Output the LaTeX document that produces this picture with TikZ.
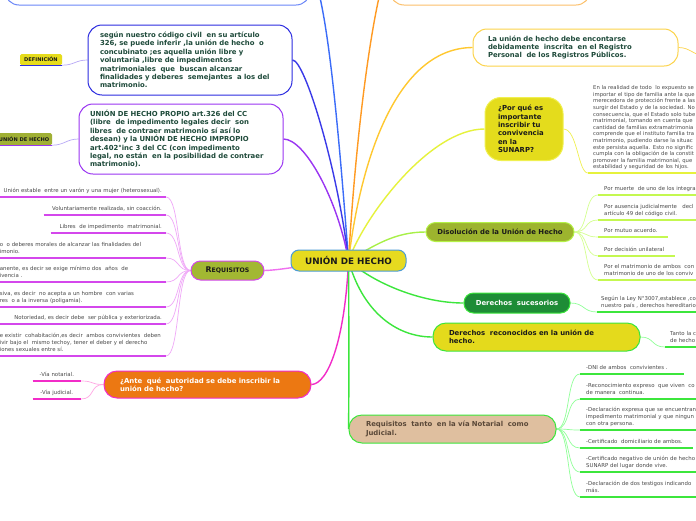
\documentclass[tikz,border=0pt]{standalone}
\usepackage{fontspec}
\setmainfont{DejaVu Sans}
\usepackage{tikz}
\usepackage{xcolor}
\usetikzlibrary{positioning}

\pgfdeclarelayer{back}
\pgfsetlayers{back,main}

\definecolor{hubfill}{HTML}{E6DA1F}
\definecolor{hubline}{HTML}{4A9BD6}
\definecolor{btline}{HTML}{6A86F8}
\definecolor{btconn}{HTML}{3B6CF8}
\definecolor{sgline}{HTML}{2C2CE0}
\definecolor{sgconn}{HTML}{3A3AE8}
\definecolor{prline}{HTML}{9A35F2}
\definecolor{otline}{HTML}{FCC06A}
\definecolor{otconn}{HTML}{FF9A22}
\definecolor{luline}{HTML}{FCD34A}
\definecolor{luconn}{HTML}{FFC830}
\definecolor{pqfill}{HTML}{E4DC1C}
\definecolor{pqline}{HTML}{F0F050}
\definecolor{pqconn}{HTML}{E6F23C}
\definecolor{dsfill}{HTML}{9DB42E}
\definecolor{dsline}{HTML}{B4F246}
\definecolor{dsconn}{HTML}{A8F048}
\definecolor{dstwig}{HTML}{D4FF90}
\definecolor{dsuline}{HTML}{C4F850}
\definecolor{sufill}{HTML}{1E8C36}
\definecolor{grn}{HTML}{3CE63C}
\definecolor{grntwig}{HTML}{90FF98}
\definecolor{rcfill}{HTML}{E4DA1C}
\definecolor{rtfill}{HTML}{DFBF9F}
\definecolor{rttext}{HTML}{5A4838}
\definecolor{rqfill}{HTML}{A2B832}
\definecolor{rqline}{HTML}{D447EC}
\definecolor{rqconn}{HTML}{F070F0}
\definecolor{rqtwig}{HTML}{F0A8F8}
\definecolor{anfill}{HTML}{EC7812}
\definecolor{anline}{HTML}{F22CC8}
\definecolor{antwig}{HTML}{FFA8E4}
\definecolor{dffill}{HTML}{E6DC1C}
\definecolor{uhfill}{HTML}{A0B034}
\definecolor{tagtwig}{HTML}{B8A8F6}
\definecolor{txtgreen}{HTML}{1E4A3A}
\definecolor{txtdark}{HTML}{1A1A1A}
\definecolor{leafgray}{HTML}{4A4A4A}

\newcommand\hubfont{\fontsize{8.8}{10}\selectfont\bfseries}
\newcommand\topicfont{\fontsize{6.9}{8.4}\selectfont\bfseries}
\newcommand\leaffont{\fontsize{5.4}{7}\selectfont}
\newcommand\tagfont{\fontsize{5.1}{6}\selectfont\bfseries}

\begin{document}
\begin{tikzpicture}[x=1pt,y=-1pt,
    hub/.style={draw=hubline, fill=hubfill, line width=1pt, rounded corners=8pt, font=\hubfont, text=txtdark, minimum width=115pt, minimum height=21pt, inner sep=0pt},
    topic/.style={draw, line width=1pt, rounded corners=12pt, fill=white, font=\topicfont, text=txtgreen, align=left, inner ysep=0pt},
    pill/.style={draw, line width=1pt, rounded corners=9.5pt, font=\topicfont, align=center, inner sep=0pt},
    tag/.style={rounded corners=1.5pt, font=\tagfont, text=txtdark, inner sep=0pt},
    leaf/.style={font=\leaffont, text=leafgray, inner xsep=6pt, inner ysep=2pt, anchor=south west, align=left, execute at end node=\strut},
    leafL/.style={leaf, anchor=south east, align=right, inner xsep=4pt},
    link/.style={line width=1.4pt},
    twig/.style={line width=0.7pt},
    uline/.style={line width=1.6pt}]
    \useasboundingbox (0,0) rectangle (696,520);

    % centre and main topics
    \node[hub] (hub) at (348.5,260.5) {UNIÓN DE HECHO};
    \node[topic, draw=btline, minimum width=305pt, minimum height=80pt, rounded corners=14pt] (bt) at (157.5,-35) {};
    \node[topic, draw=otline, minimum width=200pt, minimum height=80pt, rounded corners=14pt] (ot) at (490,-35) {};
    \node[topic, draw=sgline, text width=180pt, inner xsep=12pt, minimum height=70pt, rounded corners=14pt] (sg) at (190,60)
        {según nuestro código civil\ \ en su artículo\\326, se puede inferir ,la unión de hecho\ \ o\\concubinato ;es aquella unión libre y\\voluntaria ,libre de impedimentos\\matrimoniales\ \ que\ \ buscan alcanzar\\finalidades y deberes\ \ semejantes\ \ a los del\\matrimonio.};
    \node[topic, draw=prline, text width=182pt, inner xsep=11pt, minimum height=70pt, rounded corners=14pt] (pr) at (181,139)
        {UNIÓN DE HECHO PROPIO art.326 del CC\\(libre\ \ de impedimento legales decir\ \ son\\libres\ \ de contraer matrimonio sí así lo\\desean) y la UNIÓN DE HECHO IMPROPIO\\art.402°inc 3 del CC (con impedimento\\legal, no están\ \ en la posibilidad de contraer\\matrimonio).};
    \node[topic, draw=luline, text width=175pt, inner xsep=15pt, minimum height=37pt, rounded corners=14pt] (lu) at (575.5,47.5)
        {La unión de hecho debe encontarse\\debidamente\ \ inscrita\ \ en el Registro\\Personal\ \ de los Registros Públicos.};
    \node[topic, draw=pqline, fill=pqfill, text=txtdark, text width=52pt, inner xsep=13pt, minimum height=63pt, rounded corners=16pt] (pq) at (524,129)
        {¿Por qué es\\importante\\inscribir tu\\convivencia\\en la\\SUNARP?};
    \node[pill, draw=dsline, fill=dsfill, text=txtdark, minimum width=148pt, minimum height=19pt] (ds) at (500,232) {Disolución de la Unión de Hecho};
    \node[pill, draw=grn, fill=sufill, text=white, minimum width=106pt, minimum height=20pt] (su) at (517,303) {Derechos\ \ sucesorios};
    \node[topic, draw=grn, fill=rcfill, text=txtdark, text width=175pt, inner xsep=16pt, minimum height=28pt, rounded corners=13pt] (rc) at (536.5,337)
        {Derechos\ \ reconocidos en la unión de\\hecho.};
    \node[topic, draw=grn, fill=rtfill, text=rttext, text width=173pt, inner xsep=17pt, minimum height=28pt, rounded corners=13pt] (rt) at (452.5,429)
        {Requisitos\ \ tanto\ \ en la vía Notarial\ \ como\\Judicial.};
    \node[topic, draw=anline, fill=anfill, text=white, text width=175pt, inner xsep=16pt, minimum height=27pt, rounded corners=13pt] (an) at (207.5,384.5)
        {¿Ante\ \ qué\ \ autoridad se debe inscribir la\\unión de hecho?};
    \node[pill, draw=rqline, fill=rqfill, text=txtdark, minimum width=73pt, minimum height=19pt] (rq) at (227.5,270.5)
        {{\fontsize{7.8}{8}\selectfont R}{\fontsize{6.2}{7}\selectfont EQUISITOS}};

    % tags
    \node[tag, fill=dffill, minimum width=42pt, minimum height=11pt] (df) at (41,59.5) {DEFINICIÓN};
    \node[tag, fill=uhfill, minimum width=56pt, minimum height=12pt] (uh) at (24,139) {UNIÓN DE HECHO};
    \draw[uline, line width=1.2pt, sgline] (df.south west) -- (df.south east);
    \draw[uline, line width=1.2pt, prline] (uh.south west) -- (uh.south east);

    % leaves of REQUISITOS
    \node[leafL, text width=170pt] (r1) at (166,197) {Unión estable\ \ entre un varón y una mujer (heterosexual).};
    \node[leafL, text width=114pt] (r2) at (166,215) {Voluntariamente realizada, sin coacción.};
    \node[leafL, text width=107pt] (r3) at (166,233) {Libres\ \ de impedimento\ \ matrimonial.};
    \node[leafL, text width=162pt, align=left] (r4) at (166,258) {o\ \ o deberes morales de alcanzar las finalidades del\\imonio.};
    \node[leafL, text width=162pt, align=left] (r5) at (166,282) {anente, es decir se exige mínimo dos\ \ años\ \ de\\ivencia .};
    \node[leafL, text width=162pt, align=left] (r6) at (166,307) {siva, es decir\ \ no acepta a un hombre\ \ con varias\\res\ \ o a la inversa (poligamia).};
    \node[leafL, text width=158pt] (r7) at (166,324) {Notoriedad, es decir debe\ \ ser pública y exteriorizada.};
    \node[leafL, text width=162pt, align=left] (r8) at (166,356) {e existir\ \ cohabitación,es decir\ \ ambos convivientes\ \ deben\\ivir bajo el\ \ mismo techoy, tener el deber y el derecho\\iones sexuales entre sí.};

    % leaves of the authority question
    \node[leafL, text width=40pt, align=center] (a1) at (81,381) {-Vía notarial.};
    \node[leafL, text width=40pt, align=center] (a2) at (81,399) {-Vía judicial.};

    % right hand leaves
    \node[leaf, font=\fontsize{5.3}{6.6}\selectfont, inner xsep=5pt, text width=130pt] (p1) at (588,173)
        {En la realidad de todo\ \ lo expuesto se\\importar el tipo de familia ante la que\\merecedora de protección frente a las\\surgir del Estado y de la sociedad. No\\consecuencia, que el Estado solo tube\\matrimonial, tomando en cuenta que\\cantidad de familias extramatrimonia\\comprende que el instituto familia tra\\matrimonio, pudiendo darse la situac\\este persista aquella. Esto no signific\\cumpla con la obligación de la constit\\promover la familia matrimonial, que\\estabilidad y seguridad de los hijos.};
    \node[leaf, text width=120pt] (d1) at (598,195) {Por muerte\ \ de uno de los integra};
    \node[leaf, text width=120pt] (d2) at (598,220) {Por ausencia judicialmente\ \ \ decl\\artículo 49 del código civil.};
    \node[leaf, text width=58pt] (d3) at (598,237) {Por mutuo acuerdo.};
    \node[leaf, text width=65pt] (d4) at (598,256) {Por decisión unilateral};
    \node[leaf, text width=120pt] (d5) at (598,280) {Por el matrimonio de ambos\ \ con\\matrimonio de uno de los conviv};
    \node[leaf, inner xsep=4pt, text width=120pt] (s1) at (597,312) {Según la Ley N°3007,establece ,co\\nuestro país , derechos hereditario};
    \node[leaf, inner xsep=5pt, text width=60pt] (c1) at (665,347) {Tanto la c\\de hecho};
    \node[leaf, text width=92pt] (q1) at (580,374) {-DNI de ambos\ \ convivientes .};
    \node[leaf, text width=130pt] (q2) at (580,399) {-Reconocimiento expreso\ \ que viven\ \ co\\de manera\ \ continua.};
    \node[leaf, text width=130pt] (q3) at (580,430) {-Declaración expresa que se encuentran\\impedimento matrimonial y que ningun\\con otra persona.};
    \node[leaf, text width=101pt] (q4) at (580,448) {-Certificado\ \ domiciliario de ambos.};
    \node[leaf, text width=130pt] (q5) at (580,472) {-Certificado negativo de unión de hecho\\SUNARP del lugar donde vive.};
    \node[leaf, text width=130pt] (q6) at (580,497) {-Declaración de dos testigos indicando\\más.};
    \coordinate (luend) at (706,56);

    % underlines
    \foreach \n in {r1,r2,r3,r4,r5,r6,r7,r8} \draw[uline, rqline] (\n.south west) -- (\n.south east);
    \foreach \n in {a1,a2} \draw[uline, anline] (\n.south west) -- (\n.south east);
    \foreach \n in {d1,d2,d3,d4,d5} \draw[uline, dsuline] (\n.south west) -- (\n.south east);
    \foreach \n in {s1,c1,q1,q2,q3,q4,q5,q6} \draw[uline, grn] (\n.south west) -- (\n.south east);
    \draw[uline, pqconn] (p1.south west) -- (p1.south east);

    \begin{pgfonlayer}{back}
    \fill[white] (0,0) rectangle (696,520);
    % connectors from the centre
    \draw[link, btconn] (hub.center) .. controls (335,80) and (325,0) .. (bt.east);
    \draw[link, sgconn] (hub.center) .. controls (338,170) and (305,60) .. (sg.east);
    \draw[link, prline] (hub.center) .. controls (338,200) and (305,139) .. (pr.east);
    \draw[link, otconn] (hub.center) .. controls (358,100) and (378,-20) .. (ot.west);
    \draw[link, luconn] (hub.center) .. controls (362,150) and (400,48) .. (lu.west);
    \draw[link, pqconn] (hub.center) .. controls (365,215) and (430,129) .. (pq.west);
    \draw[link, dsconn] (hub.center) .. controls (375,245) and (395,232) .. (ds.west);
    \draw[link, rqconn] (hub.center) .. controls (320,262) and (285,270) .. (rq.east);
    \draw[link, anline] (hub.center) .. controls (345,340) and (328,384) .. (an.east);
    \draw[link, grn] (hub.center) .. controls (349,330) and (349,400) .. (rt.west);
    \draw[link, grn] (hub.center) .. controls (362,310) and (395,337) .. (rc.west);
    \draw[link, grn] (hub.center) .. controls (372,282) and (420,303) .. (su.west);
    % connectors to tags and leaves
    \draw[twig, tagtwig] (df.south east) .. controls +(12,0) and +(-12,0) .. (sg.west);
    \draw[twig, tagtwig] (uh.south east) .. controls +(12,0) and +(-12,0) .. (pr.west);
    \foreach \n in {r1,r2,r3,r4,r5,r6,r7,r8} \draw[twig, rqtwig] (rq.west) .. controls +(-14,0) and +(14,0) .. (\n.south east);
    \foreach \n in {a1,a2} \draw[twig, antwig] (an.west) .. controls +(-14,0) and +(14,0) .. (\n.south east);
    \foreach \n in {d1,d2,d3,d4,d5} \draw[twig, dstwig] (ds.east) .. controls +(14,0) and +(-14,0) .. (\n.south west);
    \foreach \n in {q1,q2,q3,q4,q5,q6} \draw[twig, grntwig] (rt.east) .. controls +(14,0) and +(-14,0) .. (\n.south west);
    \draw[twig, grntwig] (su.east) .. controls +(14,0) and +(-14,0) .. (s1.south west);
    \draw[twig, grntwig] (rc.east) .. controls +(14,0) and +(-14,0) .. (c1.south west);
    \draw[twig, pqline] (pq.east) .. controls +(14,0) and +(-10,0) .. (p1.south west);
    \draw[twig, luline] (lu.east) .. controls +(12,0) and +(-12,0) .. (luend);
    \end{pgfonlayer}
\end{tikzpicture}
\end{document}
